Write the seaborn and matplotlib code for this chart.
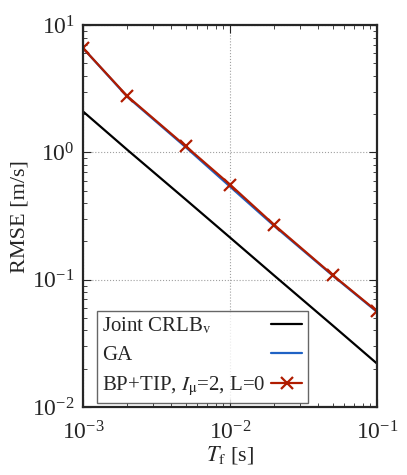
import numpy as np
import pandas as pd
import matplotlib
matplotlib.use("Agg")
import matplotlib.pyplot as plt
import seaborn as sns
from matplotlib.ticker import LogLocator, NullFormatter

# datos
t_frame = [0.001, 0.002, 0.005, 0.01, 0.02, 0.05, 0.1]
crlb_v = [2.1, 1.05, 0.427, 0.215, 0.108, 0.0438, 0.022]
rmse_ga = [6.6, 2.74, 1.1, 0.54, 0.265, 0.108, 0.056]
rmse_bp = [6.6, 2.77, 1.12, 0.56, 0.27, 0.109, 0.0566]

etiquetas = ["Joint CRLB$_\\mathrm{v}$", "GA", "BP+TIP, $I_\\mathrm{\\mu}$=2, L=0"]
colores = ["#000000", "#1f62c4", "#b01c00"]

sns.set_style("ticks")
plt.rcParams["font.family"] = ["Liberation Serif", "DejaVu Serif"]
plt.rcParams["mathtext.fontset"] = "stix"

df = pd.DataFrame({
    "T": t_frame * 3,
    "RMSE": crlb_v + rmse_ga + rmse_bp,
    "serie": [etiquetas[0]] * 7 + [etiquetas[1]] * 7 + [etiquetas[2]] * 7,
})

fig = plt.figure(figsize=(4.07, 4.75), dpi=100)
ax = fig.add_axes([0.204, 0.143, 0.722, 0.804])

sns.lineplot(data=df[df.serie == etiquetas[0]], x="T", y="RMSE", color=colores[0],
             lw=1.6, ax=ax, label=etiquetas[0])
sns.lineplot(data=df[df.serie == etiquetas[1]], x="T", y="RMSE", color=colores[1],
             lw=1.6, ax=ax, label=etiquetas[1])
sns.lineplot(data=df[df.serie == etiquetas[2]], x="T", y="RMSE", color=colores[2],
             lw=1.6, marker="x", markersize=8, markeredgewidth=1.6,
             markeredgecolor=colores[2], ax=ax, label=etiquetas[2])

ax.set_xscale("log")
ax.set_yscale("log")
ax.set_xlim(1e-3, 1e-1)
ax.set_ylim(1e-2, 1e1)

ax.xaxis.set_minor_locator(LogLocator(base=10, subs=np.arange(2, 10)))
ax.yaxis.set_minor_locator(LogLocator(base=10, subs=np.arange(2, 10)))
ax.xaxis.set_minor_formatter(NullFormatter())
ax.yaxis.set_minor_formatter(NullFormatter())

ax.tick_params(which="both", direction="in", top=True, right=True, labelsize=17)
ax.tick_params(which="major", length=6, width=0.8)
ax.tick_params(which="minor", length=3, width=0.6)
ax.tick_params(axis="x", pad=10)
ax.tick_params(axis="y", pad=6)

ax.grid(True, which="major", linestyle=":", color="#a0a0a0", lw=0.8)
for s in ax.spines.values():
    s.set_linewidth(1.6)

ax.set_xlabel("$T_\\mathrm{f}$ [s]", fontsize=16, labelpad=0)
ax.set_ylabel("RMSE [m/s]", fontsize=16, labelpad=2)

leg = ax.legend(loc="lower left", bbox_to_anchor=(0.048, 0.01), fontsize=15,
                markerfirst=False, frameon=True, fancybox=False, edgecolor="#404040",
                handlelength=1.5, handletextpad=0.3, borderpad=0.25,
                labelspacing=0.45, borderaxespad=0.0)
leg.get_frame().set_linewidth(1.0)

# texto a la izquierda, linea a la derecha (estilo gnuplot)
for col in leg._legend_handle_box.get_children():
    col.align = "left"
    for fila in col.get_children():
        fila.mode = "expand"
        fila.width = 200

fig.savefig("out.png", dpi=100)
